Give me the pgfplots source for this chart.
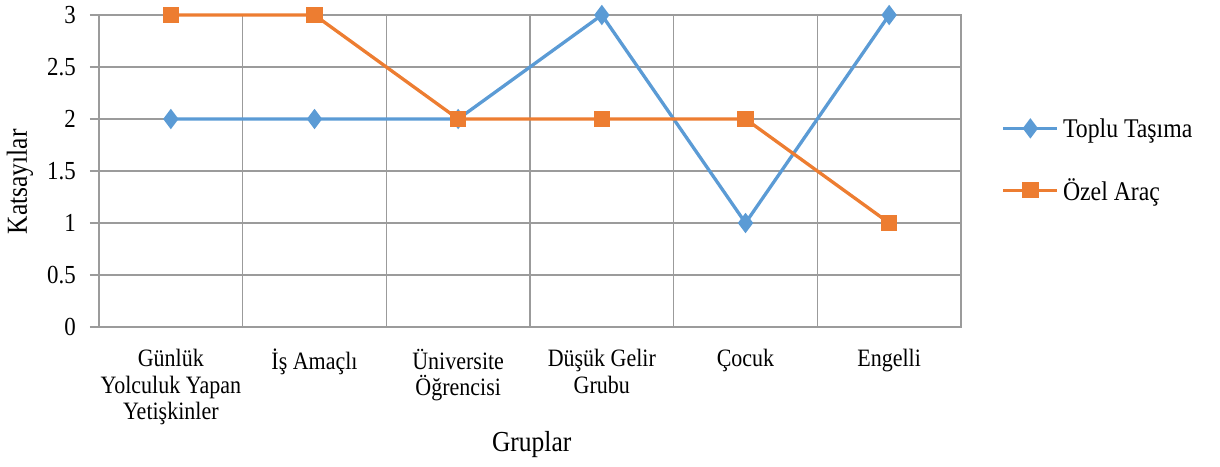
\documentclass[border=0pt]{standalone}
\usepackage{pgfplots}
\pgfplotsset{compat=1.18}
\usepackage{fontspec}
\setmainfont{Liberation Serif}[FakeStretch=0.88]
\definecolor{tblue}{RGB}{91,155,213}
\definecolor{torange}{RGB}{237,125,49}
\definecolor{gridgray}{RGB}{155,155,155}
\begin{document}
\begin{tikzpicture}
\begin{axis}[
  scale only axis, width=862pt, height=312pt,
  xmin=-0.5, xmax=5.5, ymin=0, ymax=3,
  clip=false,
  xtick={0,1,2,3,4,5},
  xticklabels={{Günlük\\Yolculuk Yapan\\Yetişkinler}, {İş Amaçlı}, {Üniversite\\Öğrencisi}, {Düşük Gelir\\Grubu}, {Çocuk}, {Engelli}},
  minor xtick={0.5,1.5,2.5,3.5,4.5},
  ytick={0,0.5,1,1.5,2,2.5,3},
  ytick pos=left,
  xmajorgrids=false, xminorgrids=true, ymajorgrids=true,
  grid style={gridgray, line width=1.5pt},
  minor grid style={gridgray, line width=1.5pt},
  axis line style={gridgray, line width=1.5pt},
  tick align=outside, major tick length=9pt, minor tick length=0pt,
  xtick style={draw=none},
  ytick style={gridgray, line width=1.5pt},
  /pgf/number format/assume math mode=true,
  xticklabel style={align=center, anchor=north, inner sep=0pt, yshift=-13pt, font=\fontsize{25}{26.5}\selectfont},
  yticklabel style={anchor=east, inner sep=0pt, xshift=-14pt, font=\fontsize{26}{26}\selectfont},
  xlabel={Gruplar},
  ylabel={Katsayılar},
  xlabel style={font=\fontsize{29}{29}\selectfont, at={(rel axis cs:0.502,-0.378)}, anchor=center},
  ylabel style={font=\fontsize{29}{29}\selectfont, at={(rel axis cs:-0.0916,0.465)}, anchor=center},
  legend style={at={(rel axis cs:1.047,0.535)}, anchor=west, draw=none, fill=none,
    font=\fontsize{27}{27}\selectfont, row sep=32pt, inner sep=0pt,
    nodes={inner sep=4pt}},
  legend cell align=left,
  legend image code/.code={\draw[mark repeat=2,mark phase=2] plot coordinates {(0pt,0pt) (27pt,0pt) (54pt,0pt)};},
]
\addplot[tblue, line width=3.3pt, mark=diamond*, mark size=7.5pt,
  mark options={solid, fill=tblue, draw=none}]
  coordinates {(0,2) (1,2) (2,2) (3,3) (4,1) (5,3)};
\addlegendentry{Toplu Taşıma}
\addplot[torange, line width=3.3pt, mark=square*, mark size=6.5pt,
  mark options={solid, fill=torange, draw=none}]
  coordinates {(0,3) (1,3) (2,2) (3,2) (4,2) (5,1)};
\addlegendentry{Özel Araç}
\end{axis}
\pgfresetboundingbox
\path (current axis.south west) ++(-99pt,-139pt) rectangle ++(1220pt,466pt);
\end{tikzpicture}
\end{document}
